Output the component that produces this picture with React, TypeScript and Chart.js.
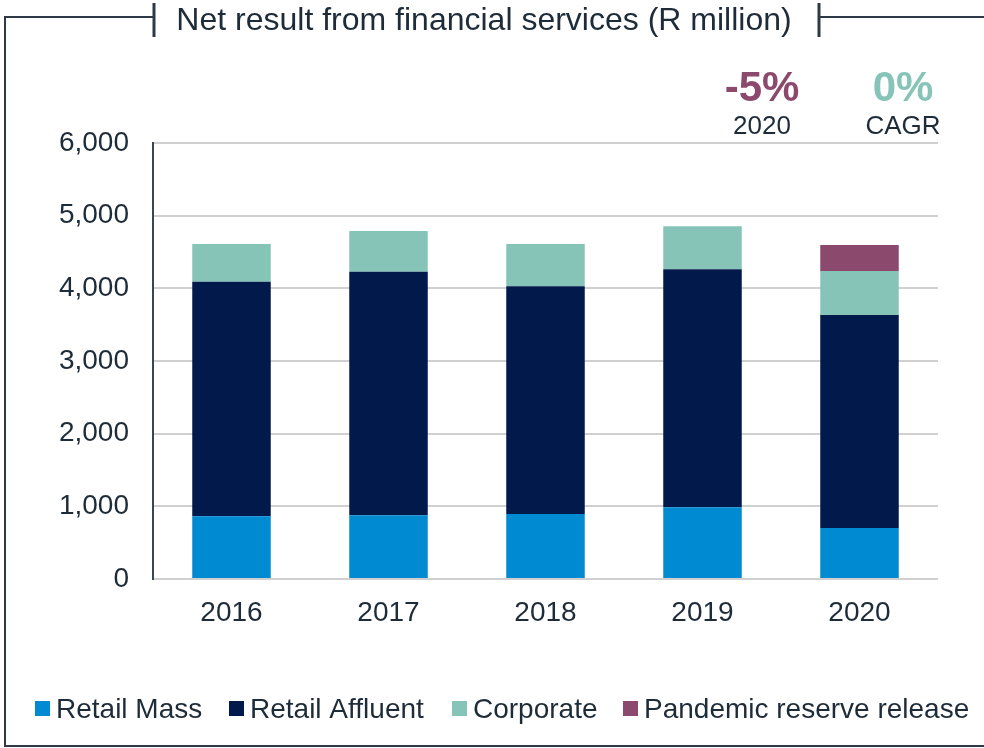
import React, { useEffect, useRef } from "react";
import { Chart, registerables } from "chart.js";

Chart.register(...registerables);

const categories = ["2016", "2017", "2018", "2019", "2020"];
const retailMass = [863, 876, 894, 987, 702];
const retailAffluent = [3228, 3353, 3134, 3275, 2931];
const corporate = [519, 560, 582, 591, 605];
const pandemicRelease = [0, 0, 0, 0, 358];
const seriesLabels = ["Retail Mass", "Retail Affluent", "Corporate", "Pandemic reserve release"];
const seriesColors = ["#008ad2", "#02194c", "#86c4b8", "#8b4a6d"];
const title = "Net result from financial services (R million)";
const growthValue = "-5%";
const growthLabel = "2020";
const cagrValue = "0%";
const cagrLabel = "CAGR";

const FONT = "'Liberation Sans', Arial, sans-serif";
const TEXT = "#1e2b38";
const FRAME = "#2e3a48";

const framePlugin = {
  id: "framePlugin",
  afterDraw(chart: any) {
    const ctx = chart.ctx;
    ctx.save();
    // frame
    ctx.strokeStyle = FRAME;
    ctx.lineWidth = 2;
    ctx.beginPath();
    ctx.moveTo(154, 17);
    ctx.lineTo(5, 17);
    ctx.lineTo(5, 746);
    ctx.lineTo(984, 746);
    ctx.moveTo(819, 17);
    ctx.lineTo(984, 17);
    ctx.stroke();
    ctx.lineWidth = 3;
    ctx.beginPath();
    ctx.moveTo(154, 3);
    ctx.lineTo(154, 37);
    ctx.moveTo(819, 3);
    ctx.lineTo(819, 37);
    ctx.stroke();
    // title
    ctx.fillStyle = TEXT;
    ctx.font = `32px ${FONT}`;
    ctx.textAlign = "center";
    ctx.textBaseline = "middle";
    ctx.fillText(title, 484, 21);
    // annotations
    ctx.font = `bold 42px ${FONT}`;
    ctx.fillStyle = seriesColors[3];
    ctx.fillText(growthValue, 762, 89);
    ctx.fillStyle = seriesColors[2];
    ctx.fillText(cagrValue, 903, 89);
    ctx.font = `26px ${FONT}`;
    ctx.fillStyle = TEXT;
    ctx.fillText(growthLabel, 762, 127);
    ctx.fillText(cagrLabel, 903, 127);
    // legend
    ctx.font = `28px ${FONT}`;
    ctx.textAlign = "left";
    const boxX = [35, 229, 452, 623];
    const y = 709;
    seriesLabels.forEach((lab, i) => {
      ctx.fillStyle = seriesColors[i];
      ctx.fillRect(boxX[i], y - 8, 15, 15);
      ctx.fillStyle = TEXT;
      ctx.fillText(lab, boxX[i] + 21, y + 1);
    });
    ctx.restore();
  },
};

export default function App() {
  const ref = useRef<HTMLCanvasElement | null>(null);
  useEffect(() => {
    if (!ref.current) return;
    const chart = new Chart(ref.current, {
      type: "bar",
      data: {
        labels: categories,
        datasets: [retailMass, retailAffluent, corporate, pandemicRelease].map((d, i) => ({
          label: seriesLabels[i],
          data: d,
          backgroundColor: seriesColors[i],
          borderWidth: 0,
          categoryPercentage: 1,
          barPercentage: 0.5,
        })),
      },
      options: {
        responsive: false,
        animation: false,
        layout: { padding: { top: 143, left: 0, right: 46, bottom: 0 } },
        plugins: { legend: { display: false }, tooltip: { enabled: false }, title: { display: false } },
        scales: {
          x: {
            stacked: true,
            grid: { display: false, drawTicks: false },
            border: { display: false },
            ticks: { color: TEXT, font: { family: FONT, size: 28 }, padding: 17 },
            afterFit: (s: any) => { s.height = 748 - 579; },
          },
          y: {
            stacked: true,
            min: 0,
            max: 6000,
            ticks: {
              stepSize: 1000,
              color: TEXT,
              font: { family: FONT, size: 28 },
              padding: 24,
              callback: (v: any) => Number(v).toLocaleString("en-US"),
            },
            grid: { color: "#d0d0d0", lineWidth: 2, drawTicks: false },
            border: { display: true, color: "#3a4654", width: 2 },
            afterFit: (s: any) => { s.width = 153; },
          },
        },
      },
      plugins: [framePlugin],
    });
    return () => chart.destroy();
  }, []);
  return (
    <div style={{ position: "absolute", left: 0, top: 0, width: 984, height: 748, background: "#fff" }}>
      <canvas ref={ref} width={984} height={748} style={{ display: "block" }} />
    </div>
  );
}
